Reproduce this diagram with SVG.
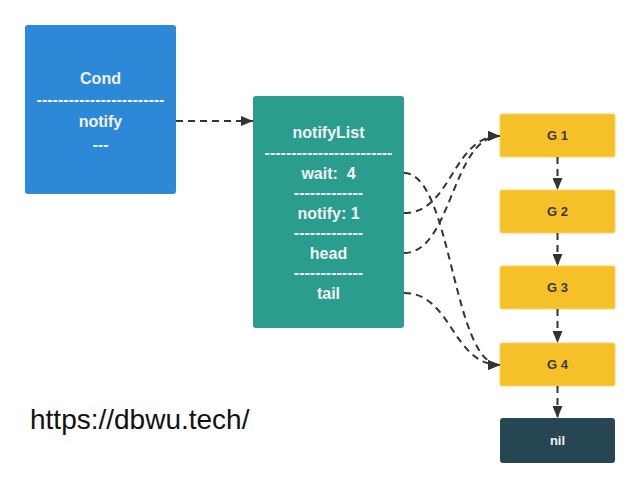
<svg xmlns="http://www.w3.org/2000/svg" width="641" height="488" viewBox="0 0 641 488">
<style>
.t{font-family:"Liberation Sans",Arial,sans-serif;font-weight:bold;font-size:16px;fill:#f2f2f2;text-anchor:middle;white-space:pre}
.g{font-family:"Liberation Sans",Arial,sans-serif;font-weight:bold;font-size:13px;fill:#3a3a3a;text-anchor:middle}
.c{fill:none;stroke:#333;stroke-width:2;stroke-dasharray:7,5}
.y{fill:#f6c128;stroke:#f8d060;stroke-width:1}
</style>
<defs>
<marker id="ah" viewBox="0 0 12 10" refX="12" refY="5" markerWidth="12" markerHeight="10" markerUnits="userSpaceOnUse" orient="auto">
<path d="M0,0 L12,5 L0,10 z" fill="#333"/>
</marker>
</defs>
<rect width="641" height="488" fill="#fff"/>
<g id="cond">
<rect x="25" y="25" width="151" height="169" rx="3" fill="#2d88d8"/>
<text class="t" x="100.5" y="84">Cond</text>
<text class="t" x="100.5" y="105">------------------------</text>
<text class="t" x="100.5" y="127">notify</text>
<text class="t" x="100.5" y="150">---</text>
</g>
<g id="notifyList">
<rect x="253" y="96" width="151" height="232" rx="3" fill="#2a9d8f"/>
<text class="t" x="328.5" y="138">notifyList</text>
<text class="t" x="328.5" y="158">------------------------</text>
<text class="t" x="328.5" y="179" xml:space="preserve">wait:&#160; 4</text>
<text class="t" x="328.5" y="198">-------------</text>
<text class="t" x="328.5" y="219">notify: 1</text>
<text class="t" x="328.5" y="238">-------------</text>
<text class="t" x="328.5" y="259">head</text>
<text class="t" x="328.5" y="278">-------------</text>
<text class="t" x="328.5" y="299">tail</text>
</g>
<g id="g1"><rect class="y" x="500" y="114" width="115" height="43" rx="2"/><text class="g" x="557.5" y="140">G 1</text></g>
<g id="g2"><rect class="y" x="500" y="190" width="115" height="43" rx="2"/><text class="g" x="557.5" y="216">G 2</text></g>
<g id="g3"><rect class="y" x="500" y="266" width="115" height="43" rx="2"/><text class="g" x="557.5" y="292">G 3</text></g>
<g id="g4"><rect class="y" x="500" y="343" width="115" height="43" rx="2"/><text class="g" x="557.5" y="369">G 4</text></g>
<g id="nil"><rect x="500" y="418" width="115" height="45" rx="3" fill="#264653"/><text class="g" x="557.5" y="445" style="fill:#f2f2f2">nil</text></g>
<g id="connectors">
<path class="c" d="M176,121 L253,121" marker-end="url(#ah)"/>
<path class="c" d="M404,173 C452,173 452,365 500,365" marker-end="url(#ah)"/>
<path class="c" d="M404,213 C452,213 452,136 500,136" marker-end="url(#ah)"/>
<path class="c" d="M404,253 C452,253 452,136 500,136" marker-end="url(#ah)"/>
<path class="c" d="M404,293 C452,293 452,365 500,365" marker-end="url(#ah)"/>
<path class="c" d="M557.5,157 L557.5,190" marker-end="url(#ah)"/>
<path class="c" d="M557.5,233 L557.5,266" marker-end="url(#ah)"/>
<path class="c" d="M557.5,309 L557.5,343" marker-end="url(#ah)"/>
<path class="c" d="M557.5,386 L557.5,418" marker-end="url(#ah)"/>
</g>
<text x="30" y="429" style="font-family:'Liberation Sans',Arial,sans-serif;font-size:28px;fill:#111">https://dbwu.tech/</text>
</svg>
